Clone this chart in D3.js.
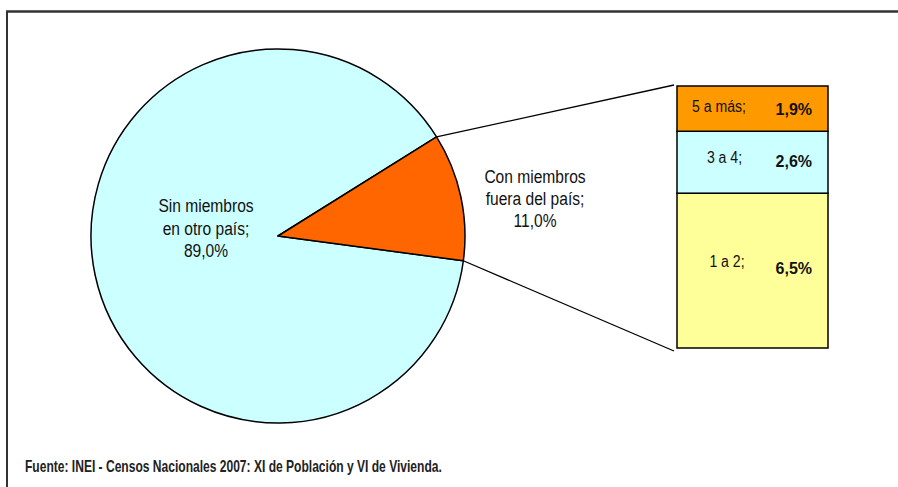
<!DOCTYPE html>
<html><head><meta charset="utf-8">
<script src="https://cdn.jsdelivr.net/npm/d3@7"></script>
<style>html,body{margin:0;padding:0;background:#fff;}svg{display:block;}</style>
</head><body>
<script>
const pieCategories = ["Sin miembros en otro país", "Con miembros fuera del país"];
const pieLabelLines = [["Sin miembros", "en otro país;", "89,0%"], ["Con miembros", "fuera del país;", "11,0%"]];
const pieValues = [89.0, 11.0];
const barCategories = ["1 a 2", "3 a 4", "5 a más"];
const barValues = [6.5, 2.6, 1.9];
const barValueLabels = ["6,5%", "2,6%", "1,9%"];
const source = "Fuente: INEI - Censos Nacionales 2007: XI de Población y VI de Vivienda.";

const W = 898, H = 487;
const svg = d3.select("body").append("svg").attr("width", W).attr("height", H);
const sans = "'Liberation Sans',Arial,sans-serif";

function condense(sel, factor) {
  sel.each(function () {
    const L = this.getComputedTextLength();
    d3.select(this).attr("textLength", L * factor).attr("lengthAdjust", "spacingAndGlyphs");
  });
  return sel;
}

// frame
svg.append("line").attr("x1", 6).attr("x2", W).attr("y1", 11.5).attr("y2", 11.5).attr("stroke", "#333").attr("stroke-width", 2.5);
svg.append("line").attr("x1", 7).attr("x2", 7).attr("y1", 11).attr("y2", H).attr("stroke", "#333").attr("stroke-width", 2);

// pie
const cx = 278, cy = 236, r = 187;
const pieColors = ["#CCFFFF", "#FF6600"];
const deg = Math.PI / 180;
const pie = d3.pie().sort(null).startAngle(97.6 * deg).endAngle(97.6 * deg + 2 * Math.PI);
const arcs = pie(pieValues);
const arc = d3.arc().innerRadius(0).outerRadius(r);
const g = svg.append("g").attr("transform", `translate(${cx},${cy})`);
g.selectAll("path").data(arcs).join("path")
  .attr("d", arc).attr("fill", (d, i) => pieColors[i])
  .attr("stroke", "#000").attr("stroke-width", 1.5).attr("stroke-linejoin", "round");

// bar
const barX0 = 677, barX1 = 828;
const barTotal = d3.sum(barValues);
const y = d3.scaleLinear().domain([0, barTotal]).range([348, 86]);
const cum = d3.cumsum(barValues);
const barColors = ["#FFFF99", "#CCFFFF", "#FF9900"];
const segs = barValues.map((v, i) => ({ v, i, y0: cum[i] - v, y1: cum[i] }));
svg.selectAll("rect.seg").data(segs).join("rect").attr("class", "seg")
  .attr("x", barX0).attr("width", barX1 - barX0)
  .attr("y", d => y(d.y1)).attr("height", d => y(d.y0) - y(d.y1))
  .attr("fill", d => barColors[d.i]).attr("stroke", "#000").attr("stroke-width", 1.5);

// connectors from the small slice edges to bar corners
const small = arcs[1];
const pt = a => [cx + r * Math.sin(a), cy - r * Math.cos(a)];
const pTop = pt(small.startAngle), pBot = pt(small.endAngle);
svg.append("line").attr("x1", pTop[0]).attr("y1", pTop[1]).attr("x2", barX0 - 3).attr("y2", y(barTotal) - 1)
  .attr("stroke", "#000").attr("stroke-width", 1.3);
svg.append("line").attr("x1", pBot[0]).attr("y1", pBot[1]).attr("x2", barX0 - 3).attr("y2", y(0) + 3)
  .attr("stroke", "#000").attr("stroke-width", 1.3);

// pie labels
const pieLabelPos = [[206, 212, 22.5], [535, 183, 22]];
pieLabelLines.forEach((lines, i) => {
  lines.forEach((s, j) => {
    const t = svg.append("text").attr("font-family", sans).attr("font-size", 18).attr("fill", "#111")
      .attr("text-anchor", "middle").attr("x", pieLabelPos[i][0]).attr("y", pieLabelPos[i][1] + j * pieLabelPos[i][2]).text(s);
    condense(t, 0.865);
  });
});

// bar labels
const catX = [727, 724.5, 719];
const catDy = [-3.5, 1, 3.5];
const valDy = [3.5, 5, 6.5];
segs.forEach(d => {
  const ym = y((d.y0 + d.y1) / 2);
  const t = svg.append("text").attr("x", catX[d.i]).attr("y", ym + catDy[d.i]).attr("text-anchor", "middle")
    .attr("font-family", sans).attr("font-size", 16).attr("fill", "#111").text(barCategories[d.i] + ";");
  condense(t, 0.88);
  svg.append("text").attr("x", 812).attr("y", ym + valDy[d.i]).attr("text-anchor", "end")
    .attr("font-family", sans).attr("font-weight", "bold").attr("font-size", 16).attr("fill", "#111").text(barValueLabels[d.i]);
});

// source
const src = svg.append("text").attr("x", 25).attr("y", 471.5).attr("font-family", sans).attr("font-weight", "bold")
  .attr("font-size", 16.5).attr("fill", "#222").text(source);
condense(src, 0.73);
</script>
</body></html>
